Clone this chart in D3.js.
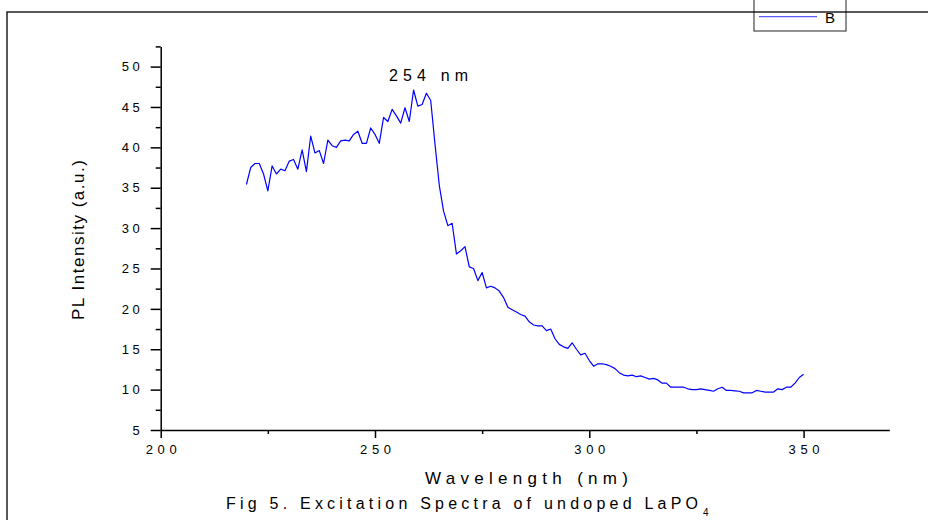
<!DOCTYPE html>
<html><head><meta charset="utf-8">
<script src="https://cdn.jsdelivr.net/npm/d3@7"></script>
<style>html,body{margin:0;padding:0;background:#fff;overflow:hidden;} svg{display:block;font-family:"Liberation Sans",Arial,sans-serif;}</style>
</head><body>
<svg id="chart" width="928" height="520"></svg>
<script>
// ---- data ----
const wavelengthStart = 220;   // nm, first sample
const wavelengthStep = 1;      // nm between samples
const intensity = [
  35.4, 37.5, 38.0, 38.0, 36.7, 34.6, 37.7, 36.7, 37.3, 37.1,   // 220-229
  38.3, 38.5, 37.3, 39.7, 37.0, 41.4, 39.3, 39.6, 38.0, 40.9,   // 230-239
  40.2, 40.0, 40.8, 40.9, 40.8, 41.6, 42.0, 40.5, 40.5, 42.4,   // 240-249
  41.6, 40.5, 43.7, 43.2, 44.7, 43.9, 43.0, 44.9, 43.2, 47.1,   // 250-259
  45.1, 45.3, 46.7, 45.8, 40.4, 35.3, 32.1, 30.3, 30.6, 26.8,   // 260-269
  27.2, 27.7, 25.2, 25.0, 23.5, 24.5, 22.6, 22.8, 22.6, 22.2,   // 270-279
  21.4, 20.2, 19.9, 19.6, 19.3, 19.1, 18.4, 18.0, 17.9, 17.9,   // 280-289
  17.3, 17.5, 16.3, 15.6, 15.3, 15.1, 15.8, 15.0, 14.3, 14.5,   // 290-299
  13.6, 12.9, 13.2, 13.2, 13.1, 12.9, 12.6, 12.1, 11.8, 11.7,   // 300-309
  11.8, 11.6, 11.7, 11.5, 11.3, 11.4, 11.2, 10.8, 10.8, 10.3,   // 310-319
  10.3, 10.3, 10.3, 10.1, 10.0, 10.0, 10.1, 10.0, 9.9, 9.8,     // 320-329
  10.1, 10.3, 9.9, 9.9, 9.85, 9.8, 9.6, 9.6, 9.6, 9.9,          // 330-339
  9.8, 9.7, 9.7, 9.7, 10.1, 10.0, 10.3, 10.3, 10.8, 11.5,       // 340-349
  11.9                                                          // 350
];
const xDomain = [200, 370];
const yDomain = [5, 52.5];
const xTicks = [200, 250, 300, 350];
const xMinorTicks = [225, 275, 325];
const yTicks = [5, 10, 15, 20, 25, 30, 35, 40, 45, 50];
const yMinorTicks = [7.5, 12.5, 17.5, 22.5, 27.5, 32.5, 37.5, 42.5, 47.5, 52.5];
const xTitle = "Wavelength (nm)";
const yTitle = "PL Intensity (a.u.)";
const captionText = "Fig 5. Excitation Spectra of undoped LaPO";
const captionSub = "4";
const peakLabel = "254 nm";
const legendLabel = "B";

// ---- drawing ----
const svg = d3.select("#chart");
const lineColor = "#0000ff";

const x = d3.scaleLinear().domain(xDomain).range([160.7, 889.3]);
const y = d3.scaleLinear().domain(yDomain).range([430, 46.4]);

// legend box (drawn before frame so the frame line crosses it)
const lg = svg.append("g");
lg.append("rect").attr("x", 754).attr("y", -6).attr("width", 92).attr("height", 37)
  .attr("fill", "#fff").attr("stroke", "#555").attr("stroke-width", 1.3);
lg.append("line").attr("x1", 759).attr("x2", 817).attr("y1", 16.7).attr("y2", 16.7)
  .attr("stroke", "#3333ff").attr("stroke-width", 1);
lg.append("text").attr("x", 825).attr("y", 23).attr("font-size", 15).attr("fill", "#000").text(legendLabel);

// outer frame
svg.append("rect").attr("x", 7).attr("y", 12).attr("width", 1000).attr("height", 600)
  .attr("fill", "none").attr("stroke", "#000").attr("stroke-width", 1.3);

function styleAxis(g) {
  g.selectAll("path.domain").attr("stroke", "#000").attr("stroke-width", 1.5);
  g.selectAll(".tick line").attr("stroke", "#000").attr("stroke-width", 1.5);
  g.selectAll(".tick text").attr("fill", "#000").attr("font-size", 13);
}

// x axis
const gx = svg.append("g").attr("transform", `translate(0,${y(yDomain[0])})`)
  .call(d3.axisBottom(x).tickValues(xTicks).tickSize(8).tickSizeOuter(0).tickPadding(7).tickFormat(d3.format("d")));
styleAxis(gx);
gx.selectAll(".tick text").attr("textLength", 31).attr("lengthAdjust", "spacing");
const gxm = svg.append("g").attr("transform", `translate(0,${y(yDomain[0])})`)
  .call(d3.axisBottom(x).tickValues(xMinorTicks).tickSize(4).tickFormat(""));
gxm.select("path.domain").remove();
styleAxis(gxm);

// y axis
const gy = svg.append("g").attr("transform", `translate(${x(xDomain[0])},0)`)
  .call(d3.axisLeft(y).tickValues(yTicks).tickSize(10).tickSizeOuter(0).tickPadding(11).tickFormat(d3.format("d")));
styleAxis(gy);
gy.selectAll(".tick text").each(function(d) {
  const s = String(d);
  if (s.length > 1) d3.select(this).attr("textLength", 18).attr("lengthAdjust", "spacing");
});
const gym = svg.append("g").attr("transform", `translate(${x(xDomain[0])},0)`)
  .call(d3.axisLeft(y).tickValues(yMinorTicks).tickSize(5).tickFormat(""));
gym.select("path.domain").remove();
styleAxis(gym);

// data line
const line = d3.line()
  .x((d, i) => x(wavelengthStart + i * wavelengthStep))
  .y(d => y(d));
svg.append("path").datum(intensity)
  .attr("d", line).attr("fill", "none").attr("stroke", lineColor)
  .attr("stroke-width", 1.2).attr("stroke-linejoin", "round");

// peak label
svg.append("text").attr("x", 389).attr("y", 81).attr("font-size", 16)
  .attr("textLength", 79).attr("lengthAdjust", "spacing").attr("fill", "#000").text(peakLabel);

// axis titles
svg.append("text").attr("x", 425).attr("y", 484).attr("font-size", 17)
  .attr("textLength", 203).attr("lengthAdjust", "spacing").attr("fill", "#000").text(xTitle);
svg.append("text").attr("transform", "translate(84,240) rotate(-90)")
  .attr("text-anchor", "middle").attr("font-size", 17)
  .attr("textLength", 160).attr("lengthAdjust", "spacing").attr("fill", "#000").text(yTitle);

// caption
svg.append("text").attr("x", 226).attr("y", 509).attr("font-size", 16)
  .attr("textLength", 472).attr("lengthAdjust", "spacing").attr("fill", "#000").text(captionText);
svg.append("text").attr("x", 703).attr("y", 516).attr("font-size", 10).attr("fill", "#000").text(captionSub);
</script>
</body></html>
